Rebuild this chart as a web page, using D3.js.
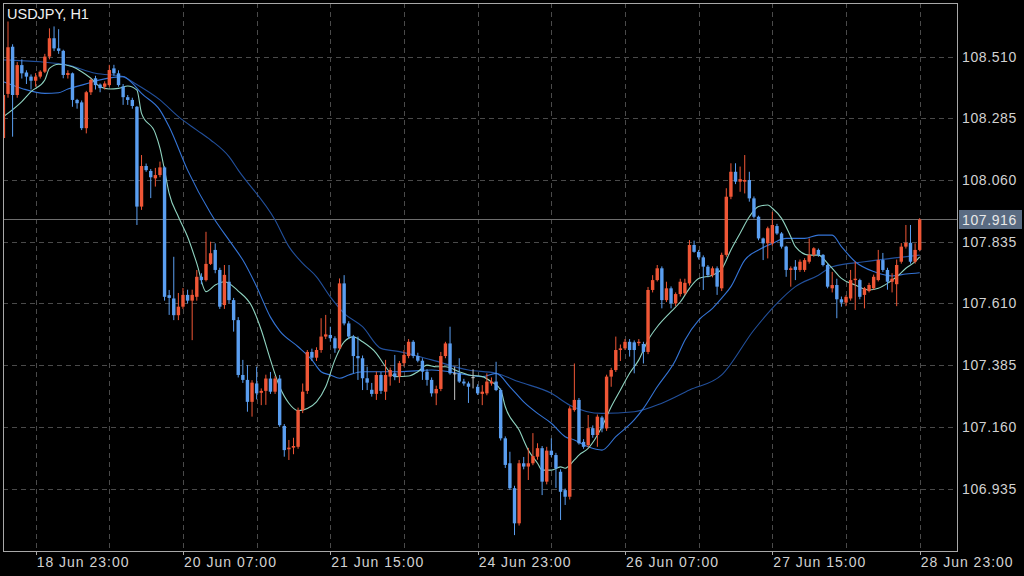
<!DOCTYPE html>
<html><head><meta charset="utf-8">
<script src="https://cdn.jsdelivr.net/npm/d3@7"></script>
<style>html,body{margin:0;background:#000;} svg{display:block}</style>
</head><body><svg id="c" width="1024" height="576"></svg>
<script>
const symbol = "USDJPY, H1";
const openP = [
108.213,108.374,108.546,108.370,108.479,108.452,108.437,108.422,108.437,108.455,
108.510,108.577,108.540,108.531,108.443,108.449,108.352,108.343,108.249,108.380,
108.431,108.408,108.400,108.406,108.467,108.449,108.401,108.362,108.352,108.327,
107.963,108.111,108.093,108.066,108.078,108.106,107.640,107.628,107.567,107.598,
107.641,107.620,107.634,107.707,107.695,107.754,107.805,107.732,107.604,107.689,
107.622,107.549,107.349,107.331,107.251,107.318,107.284,107.291,107.336,107.288,
107.336,107.163,107.078,107.084,107.087,107.221,107.291,107.433,107.412,107.440,
107.489,107.495,107.483,107.446,107.683,107.537,107.489,107.418,107.410,107.337,
107.295,107.280,107.349,107.288,107.343,107.355,107.343,107.392,107.418,107.470,
107.418,107.401,107.361,107.331,107.282,107.298,107.418,107.464,107.355,107.355,
107.325,107.318,107.341,107.306,107.280,107.282,107.318,107.325,107.294,107.118,
107.027,106.936,106.808,107.027,107.015,107.027,107.051,107.082,106.960,107.073,
107.057,106.996,106.929,106.905,107.221,107.258,107.105,107.093,107.155,107.130,
107.194,107.154,107.343,107.367,107.440,107.446,107.470,107.468,107.465,107.462,
107.433,107.659,107.695,107.738,107.622,107.665,107.610,107.644,107.647,107.683,
107.823,107.798,107.778,107.744,107.713,107.738,107.665,107.787,107.999,108.090,
108.054,108.054,108.060,107.993,107.926,107.847,107.829,107.829,107.892,107.865,
107.817,107.732,107.744,107.732,107.732,107.762,107.787,107.805,107.787,107.750,
107.665,107.677,107.625,107.613,107.628,107.695,107.695,107.641,107.655,107.665,
107.695,107.768,107.732,107.689,107.680,107.762,107.817,107.831,107.762,107.805];
const highP = [
108.380,108.638,108.555,108.490,108.500,108.460,108.445,108.450,108.460,108.520,
108.613,108.620,108.610,108.535,108.460,108.452,108.356,108.350,108.385,108.430,
108.440,108.412,108.420,108.480,108.480,108.460,108.410,108.370,108.360,108.330,
108.151,108.120,108.100,108.104,108.127,108.110,107.659,107.780,107.648,107.666,
107.660,107.660,107.732,107.720,107.871,107.835,107.829,107.740,107.750,107.750,
107.630,107.560,107.404,107.385,107.330,107.379,107.300,107.350,107.360,107.345,
107.349,107.170,107.112,107.120,107.230,107.318,107.440,107.445,107.450,107.556,
107.568,107.525,107.490,107.701,107.713,107.545,107.495,107.489,107.420,107.379,
107.320,107.361,107.360,107.404,107.376,107.422,107.400,107.440,107.480,107.476,
107.430,107.410,107.370,107.340,107.310,107.433,107.470,107.525,107.379,107.410,
107.335,107.325,107.370,107.315,107.312,107.355,107.340,107.397,107.300,107.125,
107.069,106.945,107.039,107.050,107.083,107.137,107.100,107.090,107.087,107.118,
107.065,107.005,106.935,107.235,107.391,107.265,107.115,107.203,107.165,107.205,
107.200,107.350,107.375,107.489,107.460,107.480,107.480,107.475,107.480,107.470,
107.670,107.713,107.750,107.745,107.689,107.672,107.650,107.700,107.700,107.841,
107.839,107.805,107.785,107.750,107.745,107.745,107.795,108.030,108.121,108.121,
108.109,108.151,108.090,108.000,107.930,107.850,107.890,107.944,107.900,107.870,
107.820,107.745,107.768,107.770,107.775,107.847,107.815,107.810,107.790,107.755,
107.725,107.700,107.635,107.640,107.732,107.762,107.700,107.670,107.685,107.715,
107.805,107.794,107.740,107.720,107.770,107.830,107.896,107.896,107.829,107.921];
const lowP = [
108.200,108.360,108.218,108.360,108.430,108.410,108.390,108.400,108.430,108.450,
108.500,108.530,108.520,108.431,108.430,108.327,108.320,108.242,108.230,108.370,
108.390,108.380,108.390,108.400,108.440,108.400,108.334,108.334,108.320,107.896,
107.951,108.090,107.994,108.036,108.070,107.620,107.568,107.549,107.549,107.590,
107.610,107.476,107.620,107.680,107.690,107.750,107.720,107.590,107.590,107.610,
107.507,107.340,107.320,107.215,107.197,107.260,107.239,107.240,107.280,107.280,
107.160,107.051,107.039,107.060,107.080,107.210,107.280,107.400,107.400,107.430,
107.480,107.470,107.430,107.440,107.530,107.480,107.355,107.331,107.294,107.294,
107.270,107.258,107.280,107.258,107.310,107.330,107.320,107.380,107.410,107.410,
107.395,107.331,107.310,107.270,107.239,107.290,107.410,107.350,107.258,107.320,
107.310,107.247,107.300,107.276,107.239,107.275,107.310,107.290,107.110,107.010,
106.930,106.765,106.800,107.005,106.966,107.020,107.040,106.911,106.950,107.050,
106.937,106.820,106.875,106.895,107.215,107.095,107.080,107.085,107.120,107.087,
107.140,107.145,107.306,107.360,107.400,107.440,107.416,107.355,107.455,107.391,
107.425,107.650,107.690,107.592,107.615,107.592,107.600,107.635,107.640,107.675,
107.795,107.770,107.659,107.705,107.705,107.641,107.655,107.780,107.990,108.045,
108.017,108.011,107.981,107.920,107.840,107.768,107.774,107.820,107.860,107.810,
107.707,107.671,107.695,107.725,107.725,107.755,107.780,107.780,107.745,107.665,
107.650,107.556,107.598,107.600,107.620,107.586,107.625,107.592,107.650,107.660,
107.690,107.725,107.660,107.650,107.600,107.755,107.810,107.755,107.755,107.800];
const closeP = [
108.370,108.544,108.370,108.479,108.449,108.437,108.422,108.437,108.455,108.510,
108.577,108.540,108.531,108.443,108.450,108.352,108.340,108.249,108.380,108.425,
108.406,108.395,108.412,108.461,108.449,108.406,108.362,108.352,108.330,107.963,
108.111,108.096,108.070,108.078,108.106,107.634,107.630,107.567,107.598,107.641,
107.620,107.641,107.707,107.695,107.754,107.793,107.732,107.598,107.714,107.622,
107.549,107.349,107.331,107.251,107.321,107.282,107.291,107.336,107.288,107.336,
107.166,107.075,107.084,107.090,107.221,107.288,107.433,107.412,107.440,107.489,
107.497,107.483,107.446,107.683,107.537,107.489,107.418,107.410,107.337,107.321,
107.280,107.349,107.291,107.349,107.367,107.343,107.392,107.422,107.470,107.418,
107.401,107.361,107.331,107.282,107.298,107.418,107.464,107.355,107.355,107.325,
107.318,107.306,107.341,107.282,107.288,107.325,107.325,107.294,107.118,107.021,
106.936,106.808,107.027,107.015,107.027,107.053,107.082,106.960,107.073,107.057,
107.009,106.923,106.905,107.227,107.258,107.100,107.087,107.155,107.130,107.197,
107.154,107.343,107.367,107.440,107.446,107.470,107.440,107.440,107.470,107.433,
107.659,107.695,107.738,107.622,107.665,107.610,107.644,107.689,107.685,107.823,
107.798,107.778,107.744,107.713,107.738,107.671,107.787,107.999,108.090,108.054,
108.063,108.060,107.993,107.926,107.847,107.829,107.884,107.896,107.865,107.817,
107.732,107.738,107.732,107.762,107.768,107.787,107.811,107.787,107.750,107.671,
107.677,107.625,107.613,107.634,107.695,107.700,107.634,107.665,107.677,107.707,
107.768,107.732,107.689,107.700,107.750,107.817,107.831,107.762,107.805,107.916];

const priceTicks = [106.935,107.160,107.385,107.610,107.835,108.060,108.285,108.510];
const timeLabels = ["18 Jun 23:00","20 Jun 07:00","21 Jun 15:00","24 Jun 23:00","26 Jun 07:00","27 Jun 15:00","28 Jun 23:00"];
const timeLabelIdx = [7,39,71,103,135,167,199];
const gridIdx = [7,23,39,55,71,87,103,119,135,151,167,183,199];
const lastPrice = 107.916;

const maFastIdx = [0,4,6,9,10,12,15,17,19,21,23,25,27,29,30,33,34,35,36,38,40,42,44,46,48,51,54,56,58,60,62,64,66,68,70,72,74,76,78,81,83,85,88,90,92,94,96,99,101,104,106,108,109,112,114,116,117,119,121,122,124,125,127,130,132,134,136,138,140,142,145,147,149,151,154,156,158,160,162,164,166,167,169,171,172,175,177,179,180,182,185,188,190,192,194,196,198,199];
const maFastVal = [108.291,108.346,108.382,108.425,108.467,108.482,108.473,108.455,108.431,108.400,108.392,108.394,108.403,108.388,108.303,108.230,108.176,108.096,108.011,107.926,107.853,107.756,107.653,107.677,107.689,107.655,107.598,107.513,107.404,107.306,107.246,107.219,107.227,107.251,107.306,107.404,107.470,107.488,107.470,107.428,107.379,107.343,107.345,107.361,107.385,107.379,107.379,107.361,107.349,107.343,107.324,107.294,107.233,107.148,107.075,107.027,107.002,107.002,107.014,107.009,107.039,107.057,107.081,107.160,107.233,107.294,107.355,107.404,107.476,107.525,107.580,107.615,107.665,107.701,107.713,107.735,107.805,107.866,107.926,107.963,107.969,107.957,107.920,107.853,107.817,107.786,107.786,107.756,107.738,107.701,107.677,107.659,107.665,107.683,107.707,107.738,107.762,107.780];

const maMidIdx = [0,4,9,12,14,17,21,26,28,30,34,36,40,45,50,52,55,58,60,64,67,69,71,73,75,78,86,93,101,104,107,110,113,116,119,122,124,127,130,133,137,139,142,146,148,151,154,156,158,161,164,167,170,174,177,180,182,185,189,193,196,199];
const maMidVal = [108.418,108.394,108.376,108.378,108.392,108.406,108.425,108.437,108.413,108.376,108.315,108.254,108.096,107.939,107.817,107.768,107.671,107.560,107.510,107.452,107.404,107.361,107.349,107.337,107.349,107.361,107.361,107.367,107.349,107.343,107.355,107.306,107.251,107.209,107.173,107.124,107.112,107.087,107.075,107.124,107.185,107.227,107.306,107.404,107.476,107.549,107.592,107.629,107.671,107.768,107.805,107.829,107.847,107.847,107.859,107.859,107.817,107.762,107.726,107.710,107.717,107.722];

const maSlowIdx = [0,8,14,20,26,28,34,38,42,45,49,51,59,62,65,68,71,74,78,82,86,93,101,107,112,119,123,130,137,143,149,156,163,168,172,177,180,187,199];
const maSlowVal = [108.498,108.491,108.479,108.449,108.437,108.418,108.352,108.291,108.242,108.206,108.145,108.096,107.914,107.817,107.756,107.707,107.634,107.574,107.525,107.446,107.434,107.404,107.367,107.355,107.324,107.282,107.239,107.209,107.215,107.246,107.294,107.349,107.513,107.610,107.671,107.713,107.744,107.762,107.786];

const W = 1024, H = 576;
const plot = {l: 3, t: 3, r: 958, b: 551};
const svg = d3.select("#c");
svg.append("rect").attr("width", W).attr("height", H).attr("fill", "#000");

const x = d3.scaleLinear().domain([0, 199]).range([3.4, 919.7]);
const y = d3.scaleLinear().domain([106.935, 108.510]).range([488.5, 56.6]);

const defs = svg.append("defs");
defs.append("clipPath").attr("id", "clip").append("rect")
  .attr("x", plot.l).attr("y", plot.t).attr("width", plot.r - plot.l).attr("height", plot.b - plot.t);

const gridColor = "#4a4a4a";
// horizontal grid
svg.append("g").selectAll("line").data(priceTicks).join("line")
  .attr("x1", plot.l).attr("x2", plot.r)
  .attr("y1", d => Math.round(y(d)) + 0.5).attr("y2", d => Math.round(y(d)) + 0.5)
  .attr("stroke", gridColor).attr("stroke-dasharray", "5,4");
// vertical grid
svg.append("g").selectAll("line").data(gridIdx).join("line")
  .attr("x1", d => Math.round(x(d)) + 0.5).attr("x2", d => Math.round(x(d)) + 0.5)
  .attr("y1", plot.t).attr("y2", plot.b)
  .attr("stroke", gridColor).attr("stroke-dasharray", "5,4");

// current price line
svg.append("line").attr("x1", plot.l).attr("x2", plot.r)
  .attr("y1", Math.round(y(lastPrice)) + 0.5).attr("y2", Math.round(y(lastPrice)) + 0.5)
  .attr("stroke", "#6e6e6e").attr("stroke-width", 1);

const g = svg.append("g").attr("clip-path", "url(#clip)");

// moving averages
function drawMA(idx, val, color) {
  const pts = idx.map((d, k) => [x(d), y(val[k])]);
  g.append("path").attr("d", d3.line().curve(d3.curveMonotoneX)(pts))
    .attr("fill", "none").attr("stroke", color).attr("stroke-width", 1.1);
}
drawMA(maSlowIdx, maSlowVal, "#22509c");
drawMA(maMidIdx, maMidVal, "#3474d6");
drawMA(maFastIdx, maFastVal, "#8fd3c0");

// candles
const red = "#ef5636", blue = "#5a9ef0", doji = "#c4c4c4";
const idxs = d3.range(openP.length);
const col = i => closeP[i] > openP[i] ? red : (closeP[i] < openP[i] ? blue : doji);
const cg = g.append("g");
cg.selectAll("line").data(idxs).join("line")
  .attr("x1", i => x(i)).attr("x2", i => x(i))
  .attr("y1", i => y(highP[i])).attr("y2", i => y(lowP[i]))
  .attr("stroke", col).attr("stroke-width", 1);
const bw = 3.4;
cg.selectAll("rect").data(idxs).join("rect")
  .attr("x", i => x(i) - bw / 2).attr("width", bw)
  .attr("y", i => y(Math.max(openP[i], closeP[i])))
  .attr("height", i => Math.max(1, Math.abs(y(openP[i]) - y(closeP[i]))))
  .attr("fill", col);

// frame
svg.append("rect").attr("x", plot.l + 0.5).attr("y", plot.t + 0.5)
  .attr("width", plot.r - plot.l - 1).attr("height", plot.b - plot.t)
  .attr("fill", "none").attr("stroke", "#a8a8a8").attr("stroke-width", 1);

// right axis labels
svg.append("g").selectAll("text").data(priceTicks).join("text")
  .attr("x", 962).attr("y", d => y(d)).attr("dy", "0.36em")
  .attr("fill", "#d2d2d2").attr("font-family", "Liberation Sans, Arial, sans-serif")
  .attr("font-size", 14).attr("letter-spacing", 0.6)
  .text(d => d.toFixed(3));

// last price box
const ly = y(lastPrice);
svg.append("rect").attr("x", 959).attr("y", ly - 9.5).attr("width", 63).attr("height", 19)
  .attr("fill", "#5a6b82");
svg.append("text").attr("x", 962).attr("y", ly).attr("dy", "0.36em")
  .attr("fill", "#e8e8e8").attr("font-family", "Liberation Sans, Arial, sans-serif")
  .attr("font-size", 14).attr("letter-spacing", 0.6).text(lastPrice.toFixed(3));

// bottom ticks + labels
svg.append("g").selectAll("line").data(timeLabelIdx).join("line")
  .attr("x1", d => Math.round(x(d)) + 0.5).attr("x2", d => Math.round(x(d)) + 0.5)
  .attr("y1", plot.b).attr("y2", plot.b + 4).attr("stroke", "#a8a8a8");
svg.append("g").selectAll("text").data(timeLabels).join("text")
  .attr("x", (d, k) => x(timeLabelIdx[k]) + 1).attr("y", 567)
  .attr("fill", "#d2d2d2").attr("font-family", "Liberation Sans, Arial, sans-serif")
  .attr("font-size", 14).attr("letter-spacing", 1)
  .text(d => d);

// title
svg.append("text").attr("x", 7).attr("y", 18.5)
  .attr("fill", "#f0f0f0").attr("font-family", "Liberation Sans, Arial, sans-serif")
  .attr("font-size", 14.5).text(symbol);
</script></body></html>
